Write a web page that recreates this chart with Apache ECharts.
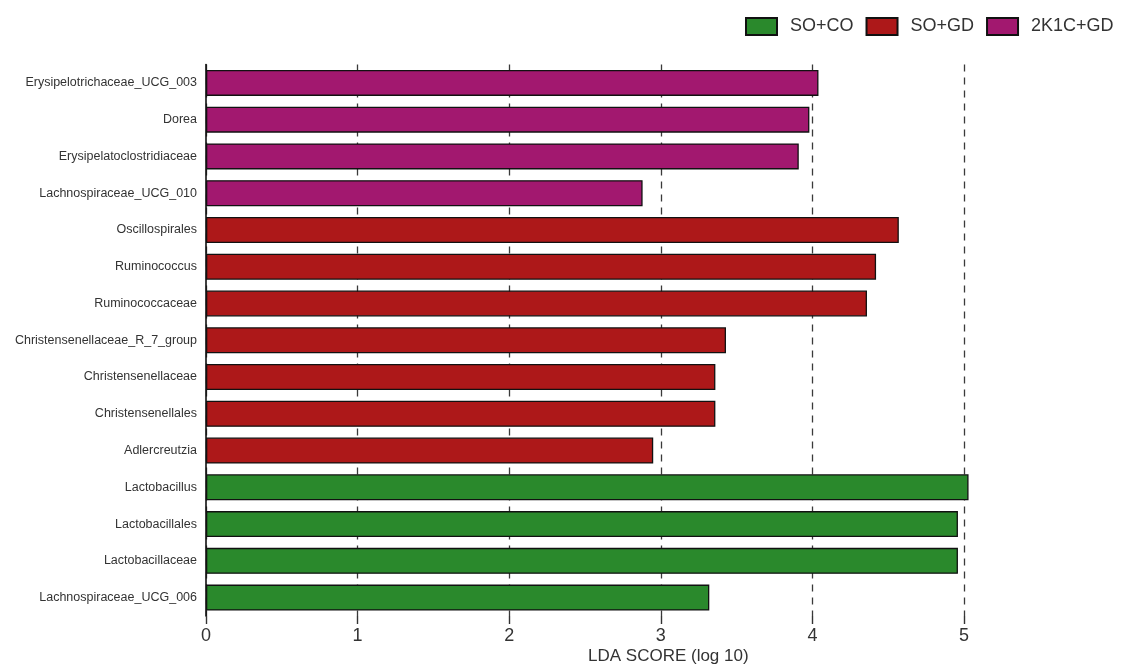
<!DOCTYPE html>
<html>
<head>
<meta charset="utf-8">
<title>LDA SCORE (log 10)</title>
<script src="https://cdn.jsdelivr.net/npm/echarts@6/dist/echarts.min.js"></script>
<style>
  html, body { margin: 0; padding: 0; background: #ffffff; }
  #chart { width: 1121px; height: 666px; }
</style>
</head>
<body>
<div id="chart"></div>
<script>
// Taxa, listed top to bottom
const taxa = [
  'Erysipelotrichaceae_UCG_003',
  'Dorea',
  'Erysipelatoclostridiaceae',
  'Lachnospiraceae_UCG_010',
  'Oscillospirales',
  'Ruminococcus',
  'Ruminococcaceae',
  'Christensenellaceae_R_7_group',
  'Christensenellaceae',
  'Christensenellales',
  'Adlercreutzia',
  'Lactobacillus',
  'Lactobacillales',
  'Lactobacillaceae',
  'Lachnospiraceae_UCG_006'
];

// LDA score (log 10) for each taxon
const ldaScores = [4.04, 3.98, 3.91, 2.88, 4.57, 4.42, 4.36, 3.43, 3.36, 3.36, 2.95, 5.03, 4.96, 4.96, 3.32];

// Group in which each taxon is enriched
const enrichedIn = [
  '2K1C+GD', '2K1C+GD', '2K1C+GD', '2K1C+GD',
  'SO+GD', 'SO+GD', 'SO+GD', 'SO+GD', 'SO+GD', 'SO+GD', 'SO+GD',
  'SO+CO', 'SO+CO', 'SO+CO', 'SO+CO'
];

// Legend order
const groups = ['SO+CO', 'SO+GD', '2K1C+GD'];

// x-axis ticks
const scoreTicks = [0, 1, 2, 3, 4, 5];

const groupColors = {
  'SO+CO': '#2a892c',
  'SO+GD': '#ad1819',
  '2K1C+GD': '#a2186f'
};

const fontFamily = "'Liberation Sans', Arial, Helvetica, sans-serif";

const series = groups.map(g => ({
  name: g,
  type: 'bar',
  stack: 'lda',
  barWidth: 26,
  clip: false,
  itemStyle: {
    color: groupColors[g],
    borderColor: '#111111',
    borderWidth: 1.3
  },
  emphasis: { disabled: true },
  data: ldaScores.map((v, i) => (enrichedIn[i] === g ? v : '-'))
}));

const chart = echarts.init(document.getElementById('chart'), null, { renderer: 'canvas' });

chart.setOption({
  backgroundColor: '#ffffff',
  animation: false,
  textStyle: { fontFamily: fontFamily },
  title: {
    text: 'LDA SCORE (log 10)',
    left: 588,
    top: 648,
    padding: 0,
    textStyle: {
      fontFamily: fontFamily,
      fontSize: 17,
      fontWeight: 'normal',
      color: '#333333'
    }
  },
  legend: {
    data: groups,
    left: 745,
    top: 17,
    itemWidth: 31,
    itemHeight: 17,
    itemGap: 12,
    icon: 'rect',
    padding: 0,
    textStyle: {
      fontFamily: fontFamily,
      fontSize: 18,
      color: '#333333',
      padding: [0, 0, 0, 8]
    }
  },
  grid: {
    left: 206,
    right: 1121 - 964,
    top: 64.5,
    bottom: 666 - 616,
    containLabel: false
  },
  xAxis: {
    type: 'value',
    min: scoreTicks[0],
    max: scoreTicks[scoreTicks.length - 1],
    interval: 1,
    axisLine: { show: false },
    axisTick: {
      show: true,
      length: 8,
      lineStyle: { color: '#333333', width: 1.4 }
    },
    axisLabel: {
      margin: 11,
      fontSize: 18,
      color: '#333333',
      fontFamily: fontFamily
    },
    splitLine: {
      show: true,
      lineStyle: { color: '#3a3a3a', width: 1.3, type: [7, 6] }
    }
  },
  yAxis: {
    type: 'category',
    data: taxa,
    inverse: true,
    axisLine: {
      show: true,
      onZero: false,
      lineStyle: { color: '#111111', width: 1.6 }
    },
    axisTick: { show: false },
    axisLabel: {
      margin: 9,
      fontSize: 12.5,
      color: '#333333',
      fontFamily: fontFamily
    },
    splitLine: { show: false }
  },
  series: series
});
</script>
</body>
</html>
